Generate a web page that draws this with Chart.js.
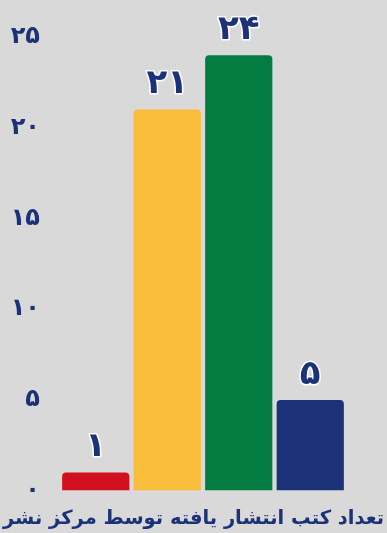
<!DOCTYPE html>
<html>
<head>
<meta charset="utf-8">
<script src="https://cdn.jsdelivr.net/npm/chart.js@4"></script>
<style>
    body { margin: 0; background: #d9d9d9; }
    #wrap { width: 387px; height: 533px; }
</style>
</head>
<body>
<div id="wrap"><canvas id="booksChart"></canvas></div>
<script>
// Data
const categories = ['الف', 'ب', 'ج', 'د'];
const bookCounts = [1, 21, 24, 5];
const barColors = ['#d20f1f', '#f8bd3a', '#037c42', '#1c3278'];
const chartTitle = 'تعداد کتب انتشار یافته توسط مرکز نشر';

const navy = '#1c3278';
const fontFamily = '"DejaVu Sans", sans-serif';

// Persian digits for labels
function toPersian(n) {
    return String(n).replace(/\d/g, d => '۰۱۲۳۴۵۶۷۸۹'[d]);
}

// Value labels above bars
const valueLabels = {
    id: 'valueLabels',
    afterDatasetsDraw(chart) {
        const ctx = chart.ctx;
        const meta = chart.getDatasetMeta(0);
        ctx.save();
        ctx.font = 'bold 34px ' + fontFamily;
        ctx.textAlign = 'center';
        ctx.textBaseline = 'bottom';
        ctx.lineJoin = 'round';
        meta.data.forEach((bar, i) => {
            const txt = toPersian(bookCounts[i]);
            ctx.lineWidth = 3;
            ctx.strokeStyle = '#ffffff';
            ctx.strokeText(txt, bar.x, bar.y - 8);
            ctx.fillStyle = navy;
            ctx.fillText(txt, bar.x, bar.y - 8);
        });
        ctx.restore();
    }
};

const ctx = document.getElementById('booksChart').getContext('2d');
new Chart(ctx, {
    type: 'bar',
    data: {
        labels: categories,
        datasets: [{
            data: bookCounts,
            backgroundColor: barColors,
            borderRadius: { topLeft: 4, topRight: 4 },
            borderSkipped: 'bottom',
            barPercentage: 0.94,
            categoryPercentage: 1
        }]
    },
    options: {
        responsive: true,
        maintainAspectRatio: false,
        animation: false,
        layout: {
            padding: { top: 37, right: 0, bottom: 2, left: 0 }
        },
        plugins: {
            legend: { display: false },
            tooltip: { enabled: false },
            title: {
                display: true,
                text: chartTitle,
                position: 'bottom',
                color: navy,
                font: { family: fontFamily, size: 19.5, weight: 'bold' },
                padding: { top: 17, bottom: 0 }
            }
        },
        scales: {
            x: {
                display: false
            },
            y: {
                min: 0,
                max: 25,
                grid: { display: false },
                border: { display: false },
                afterFit(scale) { scale.width = 60; },
                ticks: {
                    stepSize: 5,
                    padding: 12,
                    color: navy,
                    font: { family: fontFamily, size: 24, weight: 'bold' },
                    callback: v => toPersian(v)
                }
            },
            // empty right-side spacer so the title stays centred on the canvas
            yRight: {
                position: 'right',
                grid: { display: false },
                border: { display: false },
                ticks: { display: false },
                afterFit(scale) { scale.width = 41; }
            }
        }
    },
    plugins: [valueLabels]
});
</script>
</body>
</html>
